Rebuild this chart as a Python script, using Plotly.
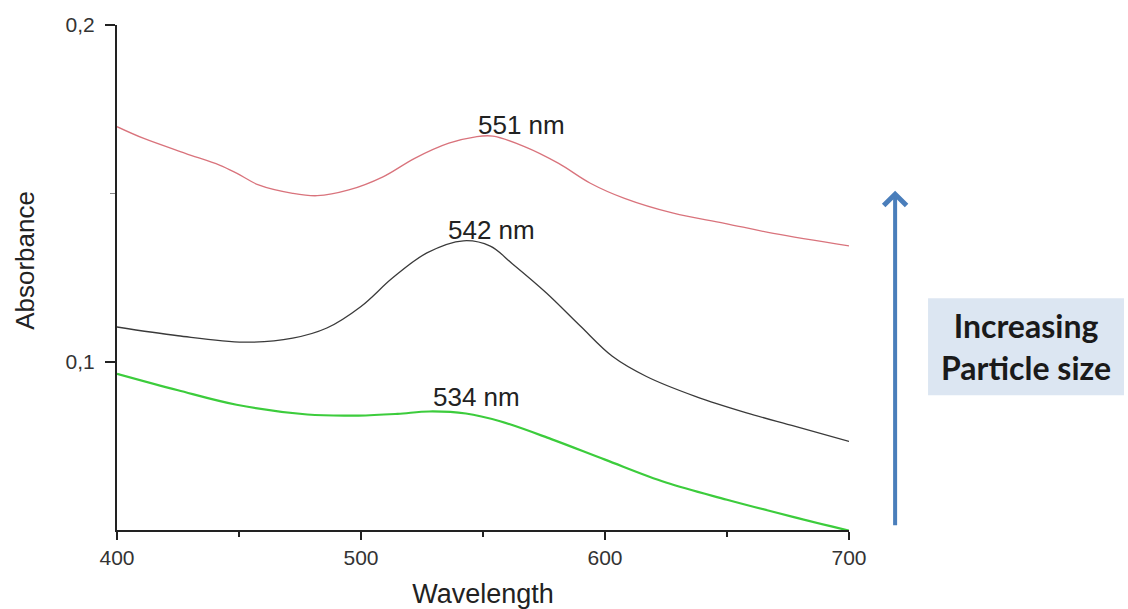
import plotly.graph_objects as go

# Absorption spectra (absorbance vs wavelength, nm)
wl_red = [400, 411, 428, 442, 449, 458, 472, 482, 495, 509, 522, 536, 547, 554, 567, 581, 594, 608, 628, 649, 669, 700]
abs_red = [0.1698, 0.1663, 0.1619, 0.1584, 0.1560, 0.1525, 0.1500, 0.1493, 0.1510, 0.1549, 0.1604, 0.1649, 0.1668,
           0.1670, 0.1639, 0.1589, 0.1530, 0.1485, 0.1441, 0.1411, 0.1381, 0.1344]

wl_black = [400, 425, 452, 472, 486, 500, 513, 527, 542, 553, 562, 576, 590, 603, 617, 637, 658, 678, 700]
abs_black = [0.1103, 0.1077, 0.1058, 0.1070, 0.1100, 0.1164, 0.1249, 0.1323, 0.1359, 0.1343, 0.1291, 0.1204,
             0.1105, 0.1016, 0.0956, 0.0897, 0.0848, 0.0808, 0.0763]

wl_green = [400, 425, 449, 478, 499, 515, 528, 543, 557, 578, 600, 625, 650, 677, 700]
abs_green = [0.0964, 0.0915, 0.0872, 0.0843, 0.0840, 0.0845, 0.0852, 0.0846, 0.0823, 0.0770, 0.0709, 0.0641,
             0.0590, 0.0539, 0.0498]

# Peak maxima and the label heights above each curve
peak_labels = ["551 nm", "542 nm", "534 nm"]
peak_x = [551, 542, 534]
peak_y = [0.1703, 0.1391, 0.0896]
label_shift = [36, 28, 33]

x_ticks = [400, 500, 600, 700]
y_ticks = [0.1, 0.2]

FONT = "Liberation Sans, Arial, sans-serif"

fig = go.Figure()
fig.add_trace(go.Scatter(x=wl_red, y=abs_red, mode="lines",
                         line=dict(color="#d9737c", width=1.3, shape="spline", smoothing=1.0)))
fig.add_trace(go.Scatter(x=wl_black, y=abs_black, mode="lines",
                         line=dict(color="#3a3a3a", width=1.3, shape="spline", smoothing=1.0)))
fig.add_trace(go.Scatter(x=wl_green, y=abs_green, mode="lines",
                         line=dict(color="#3ccc3c", width=2.2, shape="spline", smoothing=1.0)))

for txt, px, py, sh in zip(peak_labels, peak_x, peak_y, label_shift):
    fig.add_annotation(x=px, y=py, text=txt, showarrow=False, xanchor="center", yanchor="middle",
                       xshift=sh, font=dict(family=FONT, size=26, color="#222222"))

# Y-axis title placed as rotated text
fig.add_annotation(xref="paper", yref="paper", x=-0.1257, y=0.535, text="Absorbance",
                   textangle=-90, showarrow=False, xanchor="center", yanchor="middle",
                   font=dict(family=FONT, size=26, color="#222222"))

# Arrow indicating growth of particle size
fig.add_annotation(xref="paper", yref="paper", x=1.063, y=0.672, ax=0, ay=336,
                   showarrow=True, arrowhead=4, arrowsize=1.1, arrowwidth=4, arrowcolor="#4a7ebb", text="")

# Caption box
fig.add_shape(type="rect", xref="paper", yref="paper", x0=1.108, x1=1.3757, y0=0.267, y1=0.459,
              fillcolor="#dce6f2", line=dict(width=0), layer="below")
fig.add_annotation(xref="paper", yref="paper", x=1.2418, y=0.363,
                   text="<b>Increasing</b><br><b>Particle size</b>", showarrow=False,
                   font=dict(family="Lato, Open Sans, sans-serif", size=32, color="#1a1a1a"),
                   align="center", xanchor="center", yanchor="middle")

fig.update_layout(
    width=1128, height=609,
    margin=dict(l=117, r=279, t=25, b=79),
    paper_bgcolor="white", plot_bgcolor="white",
    showlegend=False,
    separators=",.",
    font=dict(family=FONT, color="#333333"),
)
fig.update_xaxes(
    range=[400, 700], tickvals=x_ticks, ticktext=[str(v) for v in x_ticks], automargin=False,
    showgrid=False, zeroline=False, showline=True, linecolor="#222222", linewidth=2,
    ticks="outside", ticklen=8, tickwidth=2, tickcolor="#222222",
    minor=dict(tickvals=[450, 550, 650], ticks="outside", ticklen=5, tickwidth=2, tickcolor="#222222"),
    tickfont=dict(size=21, color="#333333"),
    title=dict(text="Wavelength", font=dict(size=27, color="#222222"), standoff=20),
)
fig.update_yaxes(
    range=[0.05, 0.2], tickvals=y_ticks, tickformat=".1f", automargin=False,
    showgrid=False, zeroline=False, showline=True, linecolor="#222222", linewidth=2,
    ticks="outside", ticklen=10, tickwidth=2, tickcolor="#222222",
    minor=dict(tickvals=[0.15], ticks="outside", ticklen=5, tickwidth=1, tickcolor="#888888"),
    tickfont=dict(size=21, color="#333333"), ticklabelstandoff=6,
)

fig.write_html("out.html")
